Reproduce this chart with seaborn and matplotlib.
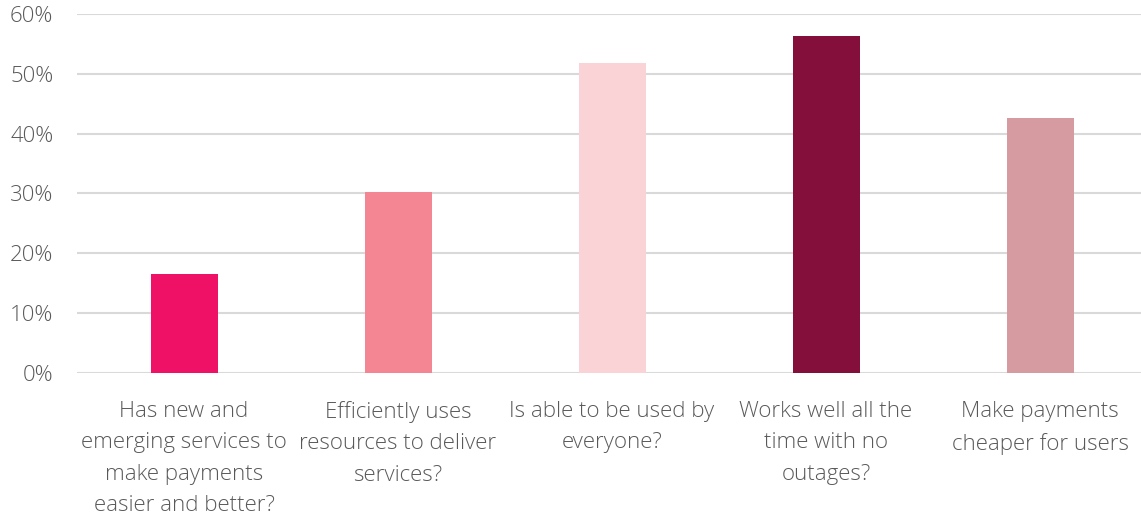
import matplotlib
matplotlib.use("Agg")
import matplotlib.pyplot as plt
from matplotlib.ticker import PercentFormatter
import seaborn as sns
import pandas as pd

categories = [
    "Has new and\nemerging services to\nmake payments\neasier and better?",
    "Efficiently uses\nresources to deliver\nservices?",
    "Is able to be used by\neveryone?",
    "Works well all the\ntime with no\noutages?",
    "Make payments\ncheaper for users",
]
shares = [16.5, 30.2, 51.8, 56.3, 42.6]
bar_colors = ["#EE1166", "#F48694", "#F9D3D5", "#830F3A", "#D59BA0"]
y_ticks = [0, 10, 20, 30, 40, 50, 60]

sns.set_theme(style="white")
plt.rcParams["font.family"] = ["Open Sans", "DejaVu Sans"]

df = pd.DataFrame({"category": categories, "share": shares})

fig = plt.figure(figsize=(11.41, 5.20), dpi=100)
ax = fig.add_axes([0.0675, 0.2827, 0.9378, 0.6904])

sns.barplot(data=df, x="category", y="share", hue="category",
            palette=bar_colors, legend=False, width=0.313,
            saturation=1, linewidth=0, edgecolor="none", ax=ax, zorder=3)

ax.set_ylim(0, 60)
ax.set_yticks(y_ticks)
ax.yaxis.set_major_formatter(PercentFormatter(decimals=0))
ax.grid(axis="y", color="#D9D9D9", linewidth=1.5, zorder=0)
ax.set_axisbelow(True)
ax.set_xlabel("")
ax.set_ylabel("")
for s in ax.spines.values():
    s.set_visible(False)

ax.tick_params(axis="y", length=0, pad=17, labelsize=16, labelcolor="#595959")
ax.tick_params(axis="x", length=0, pad=20, labelsize=16, labelcolor="#595959")
for lbl in ax.get_xticklabels():
    lbl.set_fontweight("light")
    lbl.set_linespacing(1.66)
    lbl.set_va("top")
for lbl in ax.get_yticklabels():
    lbl.set_fontweight("light")

fig.savefig("out.png", dpi=100)
